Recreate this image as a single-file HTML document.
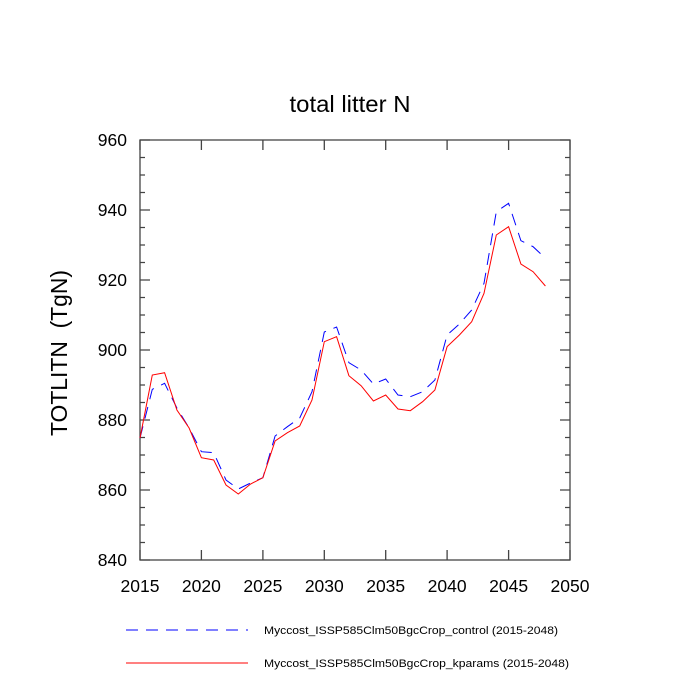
<!DOCTYPE html>
<html><head><style>body{margin:0;background:#fff}svg{display:block}</style></head><body>
<svg width="700" height="700" xmlns="http://www.w3.org/2000/svg" font-family="Liberation Sans, sans-serif">
<rect width="700" height="700" fill="#fff"/>
<text x="350" y="112" font-size="23" text-anchor="middle" textLength="121" lengthAdjust="spacingAndGlyphs">total litter N</text>
<text transform="translate(67,353) rotate(-90)" font-size="23" text-anchor="middle" textLength="166" lengthAdjust="spacingAndGlyphs">TOTLITN&#160; (TgN)</text>
<g stroke="#444" stroke-width="1.3" fill="none">
<rect x="140" y="140" width="430" height="420"/>
<path d="M140,560v-10M201.4,560v-10M262.9,560v-10M324.3,560v-10M385.7,560v-10M447.1,560v-10M508.6,560v-10M570,560v-10
M140,140v10M201.4,140v10M262.9,140v10M324.3,140v10M385.7,140v10M447.1,140v10M508.6,140v10M570,140v10
M140,560h10M140,490h10M140,420h10M140,350h10M140,280h10M140,210h10M140,140h10
M570,560h-10M570,490h-10M570,420h-10M570,350h-10M570,280h-10M570,210h-10M570,140h-10
M140,542.5h5M140,525h5M140,507.5h5M140,472.5h5M140,455h5M140,437.5h5M140,402.5h5M140,385h5M140,367.5h5M140,332.5h5M140,315h5M140,297.5h5M140,262.5h5M140,245h5M140,227.5h5M140,192.5h5M140,175h5M140,157.5h5
M570,542.5h-5M570,525h-5M570,507.5h-5M570,472.5h-5M570,455h-5M570,437.5h-5M570,402.5h-5M570,385h-5M570,367.5h-5M570,332.5h-5M570,315h-5M570,297.5h-5M570,262.5h-5M570,245h-5M570,227.5h-5M570,192.5h-5M570,175h-5M570,157.5h-5"/>
</g>
<g font-size="17.5" text-anchor="middle">
<text x="140" y="592">2015</text><text x="201.4" y="592">2020</text><text x="262.9" y="592">2025</text><text x="324.3" y="592">2030</text><text x="385.7" y="592">2035</text><text x="447.1" y="592">2040</text><text x="508.6" y="592">2045</text><text x="570" y="592">2050</text>
</g>
<g font-size="17.5" text-anchor="end">
<text x="127" y="566">840</text><text x="127" y="496">860</text><text x="127" y="426">880</text><text x="127" y="356">900</text><text x="127" y="286">920</text><text x="127" y="216">940</text><text x="127" y="146">960</text>
</g>
<polyline fill="none" stroke="#0000ff" stroke-width="1" stroke-dasharray="12,8" points="140,438 152.3,389.3 164.6,383.3 176.9,408 189.1,428 201.4,451.7 213.7,452.7 226,480 238.3,489 250.6,483 262.9,477.7 275.1,436 287.4,426.7 299.7,418 312,391.7 324.3,332 336.6,327 348.9,362.7 361.1,370 373.4,384 385.7,379 398,395 410.3,396.7 422.6,391.7 434.9,380 447.1,335 459.4,324 471.7,310 484,283.3 496.3,211.7 508.6,203.3 520.9,240.7 533.1,246.7 545.4,258.3"/>
<polyline fill="none" stroke="#ff0000" stroke-width="1" points="140,438 152.3,375 164.6,372.7 176.9,410 189.1,428 201.4,457.7 213.7,460 226,485 238.3,494 250.6,484 262.9,477.7 275.1,441 287.4,432.7 299.7,426 312,400 324.3,341.7 336.6,336.7 348.9,375.7 361.1,385.7 373.4,401 385.7,395 398,409 410.3,410.7 422.6,401.7 434.9,390 447.1,346.7 459.4,335 471.7,321.7 484,293.3 496.3,235 508.6,226.7 520.9,264 533.1,271.7 545.4,286"/>
<line x1="126" y1="630" x2="248" y2="630" stroke="#0000ff" stroke-dasharray="12,8"/>
<line x1="126" y1="663" x2="248" y2="663" stroke="#ff0000"/>
<g font-size="11">
<text x="264" y="634" textLength="294" lengthAdjust="spacingAndGlyphs">Myccost_ISSP585Clm50BgcCrop_control (2015-2048)</text>
<text x="264" y="667" textLength="305" lengthAdjust="spacingAndGlyphs">Myccost_ISSP585Clm50BgcCrop_kparams (2015-2048)</text>
</g>
</svg>
</body></html>
